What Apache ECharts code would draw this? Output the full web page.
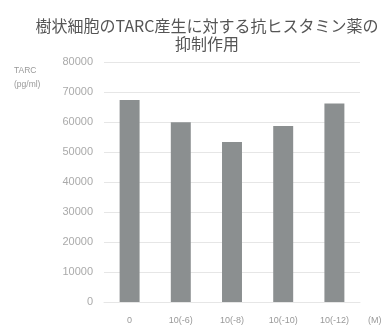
<!DOCTYPE html>
<html>
<head>
<meta charset="utf-8">
<script src="https://cdn.jsdelivr.net/npm/echarts@6/dist/echarts.min.js"></script>
<style>
html,body{margin:0;padding:0;background:#fff;}
#chart{width:387px;height:329px;}
</style>
</head>
<body>
<div id="chart"></div>
<script>
var categories = ['0', '10(-6)', '10(-8)', '10(-10)', '10(-12)'];
var tarcValues = [67300, 59900, 53300, 58700, 66200];
var yTicks = { min: 0, max: 80000, interval: 10000 };

var chart = echarts.init(document.getElementById('chart'));
chart.setOption({
  animation: false,
  backgroundColor: '#fff',
  title: [{
    text: '樹状細胞のTARC産生に対する抗ヒスタミン薬の\n抑制作用',
    left: 202,
    textAlign: 'center',
    top: 12,
    textStyle: {
      fontFamily: 'Noto Sans CJK JP',
      fontSize: 16,
      fontWeight: 'normal',
      color: '#555',
      lineHeight: 18
    }
  }, {
    text: 'TARC\n(pg/ml)',
    left: 9,
    top: 59,
    textStyle: {
      fontFamily: 'Liberation Sans',
      fontSize: 8.5,
      fontWeight: 'normal',
      color: '#999',
      lineHeight: 14
    }
  }],
  grid: { left: 104, right: 27, top: 62, bottom: 27, containLabel: false },
  xAxis: {
    type: 'category',
    data: categories,
    name: '(M)',
    nameLocation: 'end',
    nameGap: 8,
    nameTextStyle: { fontFamily: 'Liberation Sans', fontSize: 9, color: '#999', verticalAlign: 'top', padding: [14, 0, 0, 0] },
    axisLine: { show: true, lineStyle: { color: '#e6e6e6' } },
    axisTick: { show: false },
    axisLabel: { fontFamily: 'Liberation Sans', fontSize: 9, color: '#999', margin: 14 }
  },
  yAxis: {
    type: 'value',
    min: yTicks.min,
    max: yTicks.max,
    interval: yTicks.interval,
    axisLine: { show: false },
    axisTick: { show: false },
    axisLabel: { fontFamily: 'Liberation Sans', fontSize: 11, color: '#aaa', margin: 11, formatter: function (v) { return String(v); } },
    splitLine: { show: true, lineStyle: { color: '#e6e6e6', width: 1 } }
  },
  series: [{
    type: 'bar',
    data: tarcValues,
    barWidth: '39%',
    itemStyle: { color: '#8b8f90' }
  }]
});
</script>
</body>
</html>
